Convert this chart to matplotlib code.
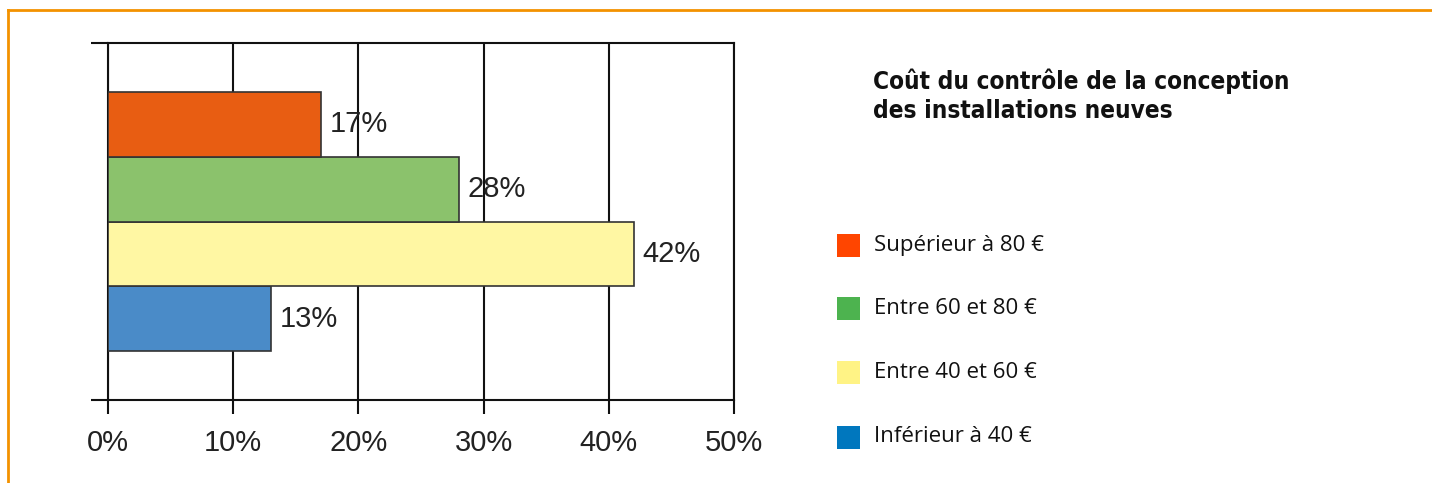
import matplotlib.pyplot as plt
from matplotlib.patches import Rectangle
from matplotlib.lines import Line2D

# données (du bas vers le haut)
categories = ["Inférieur à 40 €", "Entre 40 et 60 €", "Entre 60 et 80 €", "Supérieur à 80 €"]
values = [13, 42, 28, 17]
bar_colors = ["#4A8BC8", "#FFF7A3", "#8BC26C", "#E85D12"]
legend_colors = ["#0077BE", "#FFF385", "#4DB34F", "#FF4500"]
xticks = [0, 10, 20, 30, 40, 50]
title = "Coût du contrôle de la conception\ndes installations neuves"

W, H = 1432, 483
fig = plt.figure(figsize=(W / 100, H / 100), dpi=100)

# cadre orange (haut + gauche)
fig.add_artist(Line2D([8 / W, 1], [1 - 10 / H, 1 - 10 / H], color="#F39200", lw=2))
fig.add_artist(Line2D([8 / W, 8 / W], [0, 1 - 10 / H], color="#F39200", lw=2))

ax = fig.add_axes([108 / W, 1 - 400 / H, (734 - 108) / W, (400 - 43) / H])
ax.barh(range(len(values)), values, height=1.0, color=bar_colors,
        edgecolor="#333333", linewidth=1.2, zorder=3)
for i, v in enumerate(values):
    ax.text(v + 0.7, i, f"{v}%", va="center", ha="left",
            fontsize=21, family="Liberation Sans", color="#222222", zorder=4)

ax.set_xlim(0, 50)
ax.set_ylim(-1.25, 4.25)
ax.set_xticks(xticks)
ax.set_xticklabels([f"{t}%" for t in xticks], fontsize=21, family="Liberation Sans", color="#222222")
ax.set_yticks([-1.25, 4.25])
ax.set_yticklabels([])
ax.tick_params(axis="x", direction="out", length=10, width=1.5, pad=11, color="#111111")
ax.tick_params(axis="y", direction="out", length=12, width=1.5, color="#111111")
ax.grid(axis="x", color="#111111", linewidth=1.5, zorder=1)
for s in ax.spines.values():
    s.set_linewidth(1.5)
    s.set_color("#111111")

# titre et légende
fig.text(873 / W, 1 - 68 / H, title, ha="left", va="top", fontsize=17.5,
         fontweight="bold", family="DejaVu Sans", fontstretch="condensed",
         linespacing=1.3, color="#111111")

legend_y = [245, 308, 372, 437]
for lbl, c, y in zip(categories[::-1], legend_colors[::-1], legend_y):
    fig.add_artist(Rectangle((837 / W, 1 - (y + 12) / H), 23 / W, 23 / H,
                             facecolor=c, edgecolor="none", transform=fig.transFigure))
    fig.text(874 / W, 1 - y / H, lbl, ha="left", va="center", fontsize=16,
             family="Open Sans", color="#111111")

fig.savefig("out.png", dpi=100)
